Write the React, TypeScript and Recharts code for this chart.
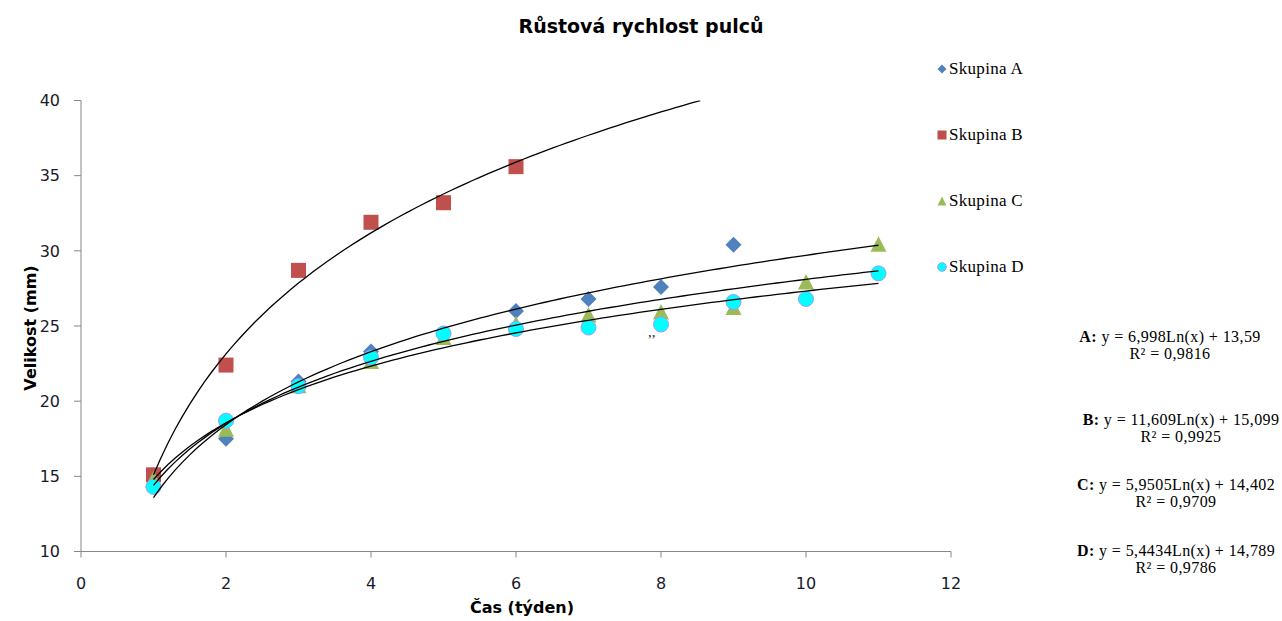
import { ScatterChart, Scatter, XAxis, YAxis, Legend, Label } from "recharts";

// týdny měření
const weeks = [1, 2, 3, 4, 5, 6, 7, 8, 9, 10, 11];
// velikost pulců (mm) podle skupin
const skupinaA = [14.3, 17.5, 21.3, 23.3, 24.5, 26.0, 26.8, 27.6, 30.4];
const skupinaB = [15.1, 22.4, 28.7, 31.9, 33.2, 35.6];
const skupinaC = [14.8, 18.1, 21.0, 22.6, 24.2, 25.1, 25.7, 25.9, 26.2, 27.9, 30.4];
const skupinaD = [14.3, 18.7, 21.0, 22.9, 24.5, 24.8, 24.9, 25.1, 26.6, 26.8, 28.5];

// logaritmické regrese y = a*Ln(x) + b, přečtené z popisků v grafu
const coefA = [6.998, 13.59];
const coefB = [11.609, 15.099];
const coefC = [5.9505, 14.402];
const coefD = [5.4434, 14.789];
const rSquared = ["0,9816", "0,9925", "0,9709", "0,9786"];
const equations = [
  "y = 6,998Ln(x) + 13,59",
  "y = 11,609Ln(x) + 15,099",
  "y = 5,9505Ln(x) + 14,402",
  "y = 5,4434Ln(x) + 14,789",
];

const xTicks = [0, 2, 4, 6, 8, 10, 12];
const yTicks = [10, 15, 20, 25, 30, 35, 40];
const Y_MAX = 40;

const toPoints = (vals: number[]) => vals.map((v, i) => ({ x: weeks[i], y: v }));

// body spojnice trendu (x od 1 do 11 po 0,1), oříznuté na horní hranici osy
const trendPoints = (coef: number[]) => {
  const [a, b] = coef;
  const pts: { x: number; y: number }[] = [];
  for (let i = 0; i <= 100; i++) {
    const x = 1 + i / 10;
    const y = a * Math.log(x) + b;
    if (y > Y_MAX) {
      pts.push({ x: Math.exp((Y_MAX - b) / a), y: Y_MAX });
      break;
    }
    pts.push({ x, y });
  }
  return pts;
};

const Diamond = (p: any) => {
  const { cx, cy } = p;
  const r = 8;
  return <polygon points={`${cx},${cy - r} ${cx + r},${cy} ${cx},${cy + r} ${cx - r},${cy}`} fill="#4F81BD" />;
};
const Square = (p: any) => <rect x={p.cx - 7.5} y={p.cy - 7.5} width={15} height={15} fill="#C0504D" />;
const Triangle = (p: any) => {
  const { cx, cy } = p;
  return <polygon points={`${cx},${cy - 8.5} ${cx + 8},${cy + 7} ${cx - 8},${cy + 7}`} fill="#9BBB59" />;
};
const Dot = (p: any) => <circle cx={p.cx} cy={p.cy} r={7.5} fill="#00FFFF" stroke="#9A9AFF" strokeWidth={1} />;
const NoShape = () => <g />;

const series = [
  { name: "Skupina A", data: skupinaA, shape: Diamond, icon: <polygon points="5,0.5 9.5,5 5,9.5 0.5,5" fill="#4F81BD" /> },
  { name: "Skupina B", data: skupinaB, shape: Square, icon: <rect x={0.5} y={0.5} width={9} height={9} fill="#C0504D" /> },
  { name: "Skupina C", data: skupinaC, shape: Triangle, icon: <polygon points="5,0.5 9.5,9.5 0.5,9.5" fill="#9BBB59" /> },
  { name: "Skupina D", data: skupinaD, shape: Dot, icon: <circle cx={5} cy={5} r={4.3} fill="#00FFFF" stroke="#9A9AFF" /> },
];
const trends = [coefA, coefB, coefC, coefD];

const serif = "'Liberation Serif', 'Times New Roman', serif";
const sans = "'DejaVu Sans', Verdana, sans-serif";

const LegendBox = () => (
  <div style={{ fontFamily: serif, fontSize: 17, letterSpacing: 0.3, color: "#000" }}>
    {series.map((s) => (
      <div key={s.name} style={{ display: "flex", alignItems: "center", height: 66 }}>
        <svg width={10} height={10} style={{ marginRight: 2 }}>{s.icon}</svg>
        <span>{s.name}</span>
      </div>
    ))}
  </div>
);

const eqCenters = [1170, 1181, 1176, 1176];
const eqTops = [328, 411, 476, 542];

export default function App() {
  return (
    <div style={{ position: "absolute", left: 0, top: 0, width: 1282, height: 621, background: "#fff" }}>
      <div style={{ position: "absolute", left: 0, width: 1282, top: 15, textAlign: "center", fontFamily: sans, fontWeight: "bold", fontSize: 19, color: "#000" }}>
        Růstová rychlost pulců
      </div>
      <ScatterChart width={1282} height={621} margin={{ top: 100.5, right: 331, bottom: 39.5, left: 21 }}>
        <XAxis
          dataKey="x"
          type="number"
          domain={[0, 12]}
          ticks={xTicks}
          height={30}
          stroke="#868686"
          tickSize={6}
          tickMargin={20}
          tick={{ fill: "#1a1a2a", fontSize: 16, fontFamily: sans }}
        >
          <Label
            content={(props: any) => {
              const vb = props.viewBox || {};
              return (
                <text x={vb.x + vb.width / 2 + 6} y={vb.y + vb.height + 31} textAnchor="middle"
                  style={{ fontFamily: sans, fontWeight: "bold", fontSize: 16, fill: "#000" }}>
                  Čas (týden)
                </text>
              );
            }}
          />
        </XAxis>
        <YAxis
          dataKey="y"
          type="number"
          domain={[10, 40]}
          ticks={yTicks}
          width={60}
          stroke="#868686"
          tickSize={7}
          tickMargin={14}
          allowDataOverflow
          tick={{ fill: "#1a1a2a", fontSize: 16, fontFamily: sans }}
        >
          <Label
            content={(props: any) => {
              const vb = props.viewBox || {};
              const cx = vb.x + 9;
              const cy = vb.y + vb.height / 2 + 2;
              return (
                <text x={cx} y={cy} transform={`rotate(-90 ${cx} ${cy})`} textAnchor="middle" dominantBaseline="central"
                  style={{ fontFamily: sans, fontWeight: "bold", fontSize: 16, fill: "#000" }}>
                  Velikost (mm)
                </text>
              );
            }}
          />
        </YAxis>
        {series.map((s) => (
          <Scatter key={s.name} name={s.name} data={toPoints(s.data)} shape={s.shape} isAnimationActive={false} />
        ))}
        {trends.map((c, i) => (
          <Scatter key={"t" + i} data={trendPoints(c)} line={{ stroke: "#000", strokeWidth: 1.3 }} shape={NoShape} legendType="none" isAnimationActive={false} />
        ))}
        <Legend layout="vertical" align="center" verticalAlign="middle" content={LegendBox}
          wrapperStyle={{ left: 937, top: 36, width: 130 }} />
      </ScatterChart>
      {equations.map((eq, i) => (
        <div key={eq} style={{ position: "absolute", left: eqCenters[i] - 120, width: 240, top: eqTops[i], textAlign: "center", fontFamily: serif, fontSize: 16, letterSpacing: 0.4, lineHeight: "17px", color: "#000" }}>
          <div><b>{"ABCD"[i]}:</b> {eq}</div>
          <div>R² = {rSquared[i]}</div>
        </div>
      ))}
      <div style={{ position: "absolute", left: 648, top: 324, fontFamily: serif, fontSize: 15, color: "#3a2a10" }}>,,</div>
    </div>
  );
}
